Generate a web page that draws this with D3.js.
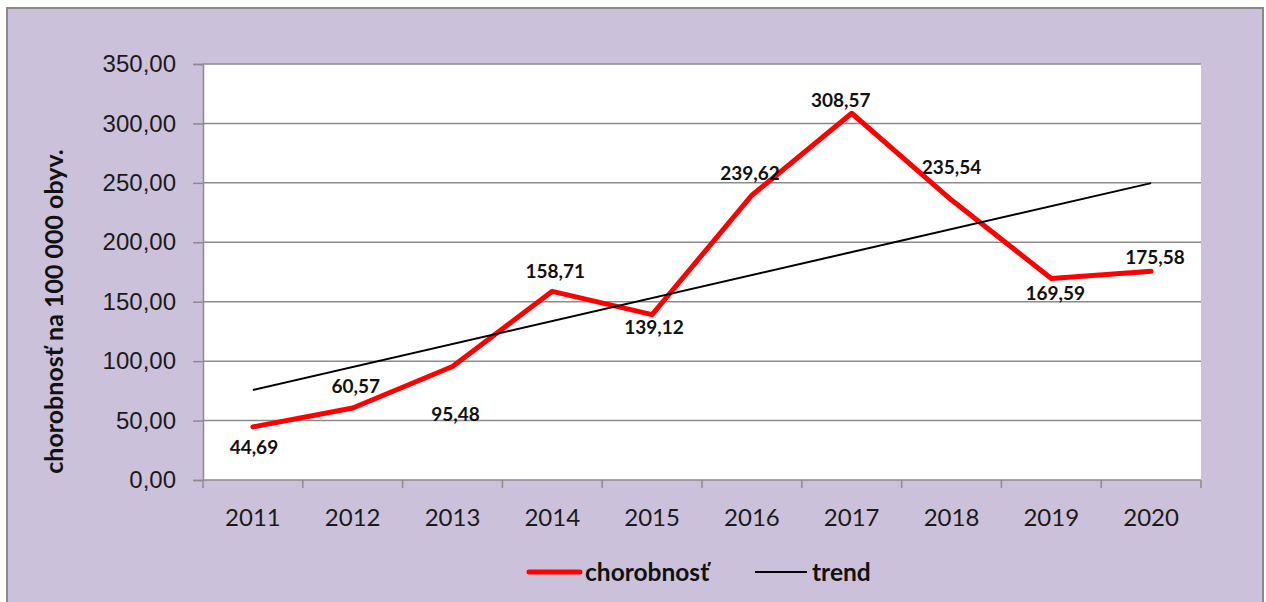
<!DOCTYPE html>
<html>
<head>
<meta charset="utf-8">
<script src="https://cdn.jsdelivr.net/npm/d3@7"></script>
<style>
  body { margin: 0; background: #fff; }
  svg { display: block; font-family: Lato, "Open Sans", sans-serif; }
</style>
</head>
<body>
<div id="chart"></div>
<script>
// chart data
const years = ["2011", "2012", "2013", "2014", "2015", "2016", "2017", "2018", "2019", "2020"];
const incidence = [44.69, 60.57, 95.48, 158.71, 139.12, 239.62, 308.57, 235.54, 169.59, 175.58];
const yTicks = [0, 50, 100, 150, 200, 250, 300, 350];

// label nudges (layout only), relative to each point
const labelDx = [1, 3, 3, 3, 2, -2, -11, 0, 4, 4];
const labelDy = [20, -22, 48, -20, 13, -22, -13, -33, 15, -14];

const width = 1266, height = 602;
const margin = { left: 203, right: 65, top: 64, bottom: 122 };

const svg = d3.select("#chart").append("svg")
    .attr("width", width)
    .attr("height", height);

// outer chart area
svg.append("rect")
    .attr("x", 7).attr("y", 8)
    .attr("width", 1256).attr("height", 610)
    .attr("fill", "#ccc1da")
    .attr("stroke", "#8a8a8a")
    .attr("stroke-width", 2);

const x = d3.scaleBand()
    .domain(years)
    .range([margin.left, width - margin.right]);

const y = d3.scaleLinear()
    .domain([0, 350])
    .range([height - margin.bottom, margin.top]);

const fmt = v => d3.format(".2f")(v).replace(".", ",");

// plot area
svg.append("rect")
    .attr("x", margin.left).attr("y", margin.top)
    .attr("width", x.range()[1] - margin.left)
    .attr("height", y(0) - margin.top)
    .attr("fill", "#fff");

// horizontal gridlines
svg.append("g")
    .selectAll("line")
    .data(yTicks.filter(d => d > 0))
    .join("line")
    .attr("x1", margin.left).attr("x2", x.range()[1])
    .attr("y1", d => y(d)).attr("y2", d => y(d))
    .attr("stroke", "#8c8c8c")
    .attr("stroke-width", 1.5);

// y axis
const yAxis = svg.append("g")
    .attr("transform", `translate(${margin.left},0)`)
    .call(d3.axisLeft(y).tickValues(yTicks).tickFormat(fmt).tickSize(10).tickPadding(17));
yAxis.select(".domain").attr("stroke", "#8c8c8c").attr("stroke-width", 1.5);
yAxis.selectAll(".tick line").attr("stroke", "#8c8c8c").attr("stroke-width", 1.5);
yAxis.selectAll(".tick text")
    .attr("fill", "#1a1a1a")
    .style("font-size", "24px");

// x axis: ticks at category boundaries
const xAxisG = svg.append("g")
    .attr("transform", `translate(0,${y(0)})`);
xAxisG.append("line")
    .attr("x1", margin.left).attr("x2", x.range()[1])
    .attr("stroke", "#8c8c8c").attr("stroke-width", 1.5);
const boundaries = years.map(d => x(d)).concat([x.range()[1]]);
xAxisG.selectAll(".xtick")
    .data(boundaries)
    .join("line")
    .attr("class", "xtick")
    .attr("x1", d => d).attr("x2", d => d)
    .attr("y1", 0).attr("y2", 8)
    .attr("stroke", "#8c8c8c").attr("stroke-width", 1.5);
xAxisG.selectAll(".xlabel")
    .data(years)
    .join("text")
    .attr("class", "xlabel")
    .attr("x", d => x(d) + x.bandwidth() / 2)
    .attr("y", 46)
    .attr("text-anchor", "middle")
    .attr("fill", "#1a1a1a")
    .style("font-size", "24px")
    .text(d => d);

// y axis title
svg.append("text")
    .attr("transform", `translate(63,${(143 + 480) / 2}) rotate(-90)`)
    .attr("text-anchor", "middle")
    .attr("fill", "#111")
    .style("font-size", "25px")
    .style("font-weight", "bold")
    .text("chorobnosť na 100 000 obyv.");

const cx = d => x(d) + x.bandwidth() / 2;

// linear trend (least squares over the series, as the spreadsheet does)
const idx = years.map((d, i) => i + 1);
const mx = d3.mean(idx), my = d3.mean(incidence);
const slope = d3.sum(idx, (v, i) => (v - mx) * (incidence[i] - my)) / d3.sum(idx, v => (v - mx) ** 2);
const intercept = my - slope * mx;
const trendPts = [0, years.length - 1].map(i => [cx(years[i]), y(intercept + slope * (i + 1))]);

// series line
svg.append("path")
    .attr("d", d3.line().x((d, i) => cx(years[i])).y(d => y(d))(incidence))
    .attr("fill", "none")
    .attr("stroke", "#ff0000")
    .attr("stroke-width", 5)
    .attr("stroke-linejoin", "round")
    .attr("stroke-linecap", "round");

// trend line
svg.append("path")
    .attr("d", d3.line()(trendPts))
    .attr("fill", "none")
    .attr("stroke", "#000")
    .attr("stroke-width", 2);

// data labels
svg.append("g")
    .selectAll("text")
    .data(incidence)
    .join("text")
    .attr("x", (d, i) => cx(years[i]) + labelDx[i])
    .attr("y", (d, i) => y(d) + labelDy[i])
    .attr("dy", "0.35em")
    .attr("text-anchor", "middle")
    .attr("fill", "#111")
    .style("font-size", "19px")
    .style("font-weight", "bold")
    .text(fmt);

// legend
const legend = svg.append("g").attr("transform", "translate(0,572)");
legend.append("line")
    .attr("x1", 529).attr("x2", 580)
    .attr("stroke", "#ff0000").attr("stroke-width", 5)
    .attr("stroke-linecap", "round");
legend.append("text")
    .attr("x", 585).attr("dy", "0.35em")
    .attr("fill", "#111")
    .style("font-size", "24.5px").style("font-weight", "bold")
    .text("chorobnosť");
legend.append("line")
    .attr("x1", 755).attr("x2", 807)
    .attr("stroke", "#000").attr("stroke-width", 2);
legend.append("text")
    .attr("x", 812).attr("dy", "0.35em")
    .attr("fill", "#111")
    .style("font-size", "24.5px").style("font-weight", "bold")
    .text("trend");
</script>
</body>
</html>
